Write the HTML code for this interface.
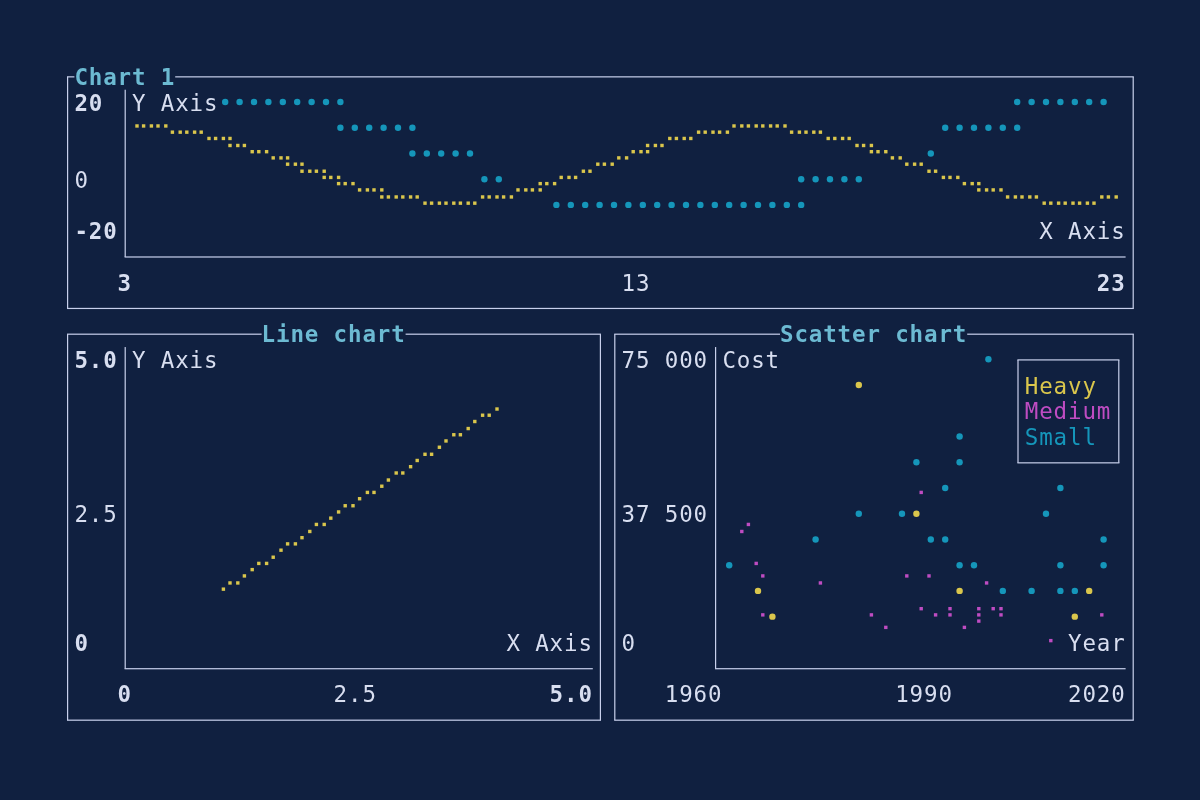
<!DOCTYPE html>
<html><head><meta charset="utf-8"><style>
html,body{margin:0;padding:0;background:#102040;}
body{width:1200px;height:800px;position:relative;overflow:hidden;}
svg{position:absolute;left:0;top:0;}
.tl{position:absolute;left:0;top:0;width:1200px;height:800px;will-change:transform;}
.t{position:absolute;font-family:"DejaVu Sans Mono","Liberation Mono",monospace;font-size:22.5px;line-height:25.733px;height:25.733px;letter-spacing:0.853px;white-space:pre;-webkit-font-smoothing:antialiased;}
</style></head><body>
<svg width="1200" height="800" viewBox="0 0 1200 800">
<rect x="67.00" y="76.26" width="7.40" height="1.2" fill="#c8d0ec"/>
<rect x="175.20" y="76.26" width="958.60" height="1.2" fill="#c8d0ec"/>
<rect x="67.00" y="307.85" width="1066.80" height="1.2" fill="#c8d0ec"/>
<rect x="67.00" y="76.86" width="1.2" height="231.60" fill="#c8d0ec"/>
<rect x="1132.60" y="76.86" width="1.2" height="231.60" fill="#c8d0ec"/>
<rect x="67.00" y="333.59" width="194.60" height="1.2" fill="#c8d0ec"/>
<rect x="405.60" y="333.59" width="195.40" height="1.2" fill="#c8d0ec"/>
<rect x="67.00" y="719.58" width="534.00" height="1.2" fill="#c8d0ec"/>
<rect x="67.00" y="334.19" width="1.2" height="386.00" fill="#c8d0ec"/>
<rect x="599.80" y="334.19" width="1.2" height="386.00" fill="#c8d0ec"/>
<rect x="614.20" y="333.59" width="165.80" height="1.2" fill="#c8d0ec"/>
<rect x="967.20" y="333.59" width="166.60" height="1.2" fill="#c8d0ec"/>
<rect x="614.20" y="719.58" width="519.60" height="1.2" fill="#c8d0ec"/>
<rect x="614.20" y="334.19" width="1.2" height="386.00" fill="#c8d0ec"/>
<rect x="1132.60" y="334.19" width="1.2" height="386.00" fill="#c8d0ec"/>
<rect x="1017.40" y="359.32" width="102.00" height="1.2" fill="#c8d0ec"/>
<rect x="1017.40" y="462.25" width="102.00" height="1.2" fill="#c8d0ec"/>
<rect x="1017.40" y="359.92" width="1.2" height="102.93" fill="#c8d0ec"/>
<rect x="1118.20" y="359.92" width="1.2" height="102.93" fill="#c8d0ec"/>
<rect x="124.60" y="89.72" width="1.2" height="167.26" fill="#c8d0ec"/>
<rect x="124.60" y="256.39" width="1001.00" height="1.2" fill="#c8d0ec"/>
<rect x="124.60" y="347.05" width="1.2" height="321.66" fill="#c8d0ec"/>
<rect x="124.60" y="668.12" width="468.20" height="1.2" fill="#c8d0ec"/>
<rect x="715.00" y="347.05" width="1.2" height="321.66" fill="#c8d0ec"/>
<rect x="715.00" y="668.12" width="410.60" height="1.2" fill="#c8d0ec"/>
<rect x="135.30" y="124.26" width="3.4" height="3.4" fill="#dac64c"/>
<rect x="141.90" y="124.26" width="3.4" height="3.4" fill="#dac64c"/>
<rect x="149.70" y="124.26" width="3.4" height="3.4" fill="#dac64c"/>
<rect x="156.30" y="124.26" width="3.4" height="3.4" fill="#dac64c"/>
<rect x="164.10" y="124.26" width="3.4" height="3.4" fill="#dac64c"/>
<rect x="170.70" y="130.46" width="3.4" height="3.4" fill="#dac64c"/>
<rect x="178.50" y="130.46" width="3.4" height="3.4" fill="#dac64c"/>
<rect x="185.10" y="130.46" width="3.4" height="3.4" fill="#dac64c"/>
<rect x="192.90" y="130.46" width="3.4" height="3.4" fill="#dac64c"/>
<rect x="199.50" y="130.46" width="3.4" height="3.4" fill="#dac64c"/>
<rect x="207.30" y="136.76" width="3.4" height="3.4" fill="#dac64c"/>
<rect x="213.90" y="136.76" width="3.4" height="3.4" fill="#dac64c"/>
<circle cx="225.20" cy="101.99" r="3.2" fill="#1596ba"/>
<rect x="221.70" y="136.76" width="3.4" height="3.4" fill="#dac64c"/>
<rect x="228.30" y="136.76" width="3.4" height="3.4" fill="#dac64c"/>
<rect x="228.30" y="143.79" width="3.4" height="3.4" fill="#dac64c"/>
<rect x="228.30" y="581.25" width="3.4" height="3.4" fill="#dac64c"/>
<rect x="221.70" y="587.45" width="3.4" height="3.4" fill="#dac64c"/>
<circle cx="239.60" cy="101.99" r="3.2" fill="#1596ba"/>
<rect x="236.10" y="143.79" width="3.4" height="3.4" fill="#dac64c"/>
<rect x="242.70" y="143.79" width="3.4" height="3.4" fill="#dac64c"/>
<rect x="242.70" y="574.22" width="3.4" height="3.4" fill="#dac64c"/>
<rect x="236.10" y="581.25" width="3.4" height="3.4" fill="#dac64c"/>
<circle cx="254.00" cy="101.99" r="3.2" fill="#1596ba"/>
<rect x="250.50" y="149.99" width="3.4" height="3.4" fill="#dac64c"/>
<rect x="257.10" y="149.99" width="3.4" height="3.4" fill="#dac64c"/>
<rect x="257.10" y="561.72" width="3.4" height="3.4" fill="#dac64c"/>
<rect x="250.50" y="567.92" width="3.4" height="3.4" fill="#dac64c"/>
<circle cx="268.40" cy="101.99" r="3.2" fill="#1596ba"/>
<rect x="264.90" y="149.99" width="3.4" height="3.4" fill="#dac64c"/>
<rect x="271.50" y="156.19" width="3.4" height="3.4" fill="#dac64c"/>
<rect x="271.50" y="555.52" width="3.4" height="3.4" fill="#dac64c"/>
<rect x="264.90" y="561.72" width="3.4" height="3.4" fill="#dac64c"/>
<circle cx="282.80" cy="101.99" r="3.2" fill="#1596ba"/>
<rect x="279.30" y="156.19" width="3.4" height="3.4" fill="#dac64c"/>
<rect x="285.90" y="156.19" width="3.4" height="3.4" fill="#dac64c"/>
<rect x="285.90" y="162.49" width="3.4" height="3.4" fill="#dac64c"/>
<rect x="285.90" y="542.18" width="3.4" height="3.4" fill="#dac64c"/>
<rect x="279.30" y="548.48" width="3.4" height="3.4" fill="#dac64c"/>
<circle cx="297.20" cy="101.99" r="3.2" fill="#1596ba"/>
<rect x="293.70" y="162.49" width="3.4" height="3.4" fill="#dac64c"/>
<rect x="300.30" y="162.49" width="3.4" height="3.4" fill="#dac64c"/>
<rect x="300.30" y="169.52" width="3.4" height="3.4" fill="#dac64c"/>
<rect x="300.30" y="535.98" width="3.4" height="3.4" fill="#dac64c"/>
<rect x="293.70" y="542.18" width="3.4" height="3.4" fill="#dac64c"/>
<circle cx="311.60" cy="101.99" r="3.2" fill="#1596ba"/>
<rect x="308.10" y="169.52" width="3.4" height="3.4" fill="#dac64c"/>
<rect x="314.70" y="169.52" width="3.4" height="3.4" fill="#dac64c"/>
<rect x="314.70" y="522.75" width="3.4" height="3.4" fill="#dac64c"/>
<rect x="308.10" y="529.78" width="3.4" height="3.4" fill="#dac64c"/>
<circle cx="326.00" cy="101.99" r="3.2" fill="#1596ba"/>
<rect x="322.50" y="169.52" width="3.4" height="3.4" fill="#dac64c"/>
<rect x="322.50" y="175.72" width="3.4" height="3.4" fill="#dac64c"/>
<rect x="329.10" y="175.72" width="3.4" height="3.4" fill="#dac64c"/>
<rect x="329.10" y="516.45" width="3.4" height="3.4" fill="#dac64c"/>
<rect x="322.50" y="522.75" width="3.4" height="3.4" fill="#dac64c"/>
<circle cx="340.40" cy="101.99" r="3.2" fill="#1596ba"/>
<circle cx="340.40" cy="127.72" r="3.2" fill="#1596ba"/>
<rect x="336.90" y="175.72" width="3.4" height="3.4" fill="#dac64c"/>
<rect x="336.90" y="181.92" width="3.4" height="3.4" fill="#dac64c"/>
<rect x="343.50" y="181.92" width="3.4" height="3.4" fill="#dac64c"/>
<rect x="343.50" y="504.05" width="3.4" height="3.4" fill="#dac64c"/>
<rect x="336.90" y="510.25" width="3.4" height="3.4" fill="#dac64c"/>
<circle cx="354.80" cy="127.72" r="3.2" fill="#1596ba"/>
<rect x="351.30" y="181.92" width="3.4" height="3.4" fill="#dac64c"/>
<rect x="357.90" y="188.22" width="3.4" height="3.4" fill="#dac64c"/>
<rect x="357.90" y="497.02" width="3.4" height="3.4" fill="#dac64c"/>
<rect x="351.30" y="504.05" width="3.4" height="3.4" fill="#dac64c"/>
<circle cx="369.20" cy="127.72" r="3.2" fill="#1596ba"/>
<rect x="365.70" y="188.22" width="3.4" height="3.4" fill="#dac64c"/>
<rect x="372.30" y="188.22" width="3.4" height="3.4" fill="#dac64c"/>
<rect x="365.70" y="490.72" width="3.4" height="3.4" fill="#dac64c"/>
<rect x="372.30" y="490.72" width="3.4" height="3.4" fill="#dac64c"/>
<circle cx="383.60" cy="127.72" r="3.2" fill="#1596ba"/>
<rect x="380.10" y="188.22" width="3.4" height="3.4" fill="#dac64c"/>
<rect x="380.10" y="195.26" width="3.4" height="3.4" fill="#dac64c"/>
<rect x="386.70" y="195.26" width="3.4" height="3.4" fill="#dac64c"/>
<rect x="386.70" y="478.32" width="3.4" height="3.4" fill="#dac64c"/>
<rect x="380.10" y="484.52" width="3.4" height="3.4" fill="#dac64c"/>
<circle cx="398.00" cy="127.72" r="3.2" fill="#1596ba"/>
<rect x="394.50" y="195.26" width="3.4" height="3.4" fill="#dac64c"/>
<rect x="401.10" y="195.26" width="3.4" height="3.4" fill="#dac64c"/>
<rect x="394.50" y="471.29" width="3.4" height="3.4" fill="#dac64c"/>
<rect x="401.10" y="471.29" width="3.4" height="3.4" fill="#dac64c"/>
<circle cx="412.40" cy="127.72" r="3.2" fill="#1596ba"/>
<circle cx="412.40" cy="153.46" r="3.2" fill="#1596ba"/>
<rect x="408.90" y="195.26" width="3.4" height="3.4" fill="#dac64c"/>
<rect x="415.50" y="195.26" width="3.4" height="3.4" fill="#dac64c"/>
<rect x="415.50" y="458.79" width="3.4" height="3.4" fill="#dac64c"/>
<rect x="408.90" y="464.99" width="3.4" height="3.4" fill="#dac64c"/>
<circle cx="426.80" cy="153.46" r="3.2" fill="#1596ba"/>
<rect x="423.30" y="201.46" width="3.4" height="3.4" fill="#dac64c"/>
<rect x="429.90" y="201.46" width="3.4" height="3.4" fill="#dac64c"/>
<rect x="423.30" y="452.59" width="3.4" height="3.4" fill="#dac64c"/>
<rect x="429.90" y="452.59" width="3.4" height="3.4" fill="#dac64c"/>
<circle cx="441.20" cy="153.46" r="3.2" fill="#1596ba"/>
<rect x="437.70" y="201.46" width="3.4" height="3.4" fill="#dac64c"/>
<rect x="444.30" y="201.46" width="3.4" height="3.4" fill="#dac64c"/>
<rect x="444.30" y="439.25" width="3.4" height="3.4" fill="#dac64c"/>
<rect x="437.70" y="445.55" width="3.4" height="3.4" fill="#dac64c"/>
<circle cx="455.60" cy="153.46" r="3.2" fill="#1596ba"/>
<rect x="452.10" y="201.46" width="3.4" height="3.4" fill="#dac64c"/>
<rect x="458.70" y="201.46" width="3.4" height="3.4" fill="#dac64c"/>
<rect x="452.10" y="433.05" width="3.4" height="3.4" fill="#dac64c"/>
<rect x="458.70" y="433.05" width="3.4" height="3.4" fill="#dac64c"/>
<circle cx="470.00" cy="153.46" r="3.2" fill="#1596ba"/>
<rect x="466.50" y="201.46" width="3.4" height="3.4" fill="#dac64c"/>
<rect x="473.10" y="201.46" width="3.4" height="3.4" fill="#dac64c"/>
<rect x="473.10" y="419.82" width="3.4" height="3.4" fill="#dac64c"/>
<rect x="466.50" y="426.85" width="3.4" height="3.4" fill="#dac64c"/>
<circle cx="484.40" cy="179.19" r="3.2" fill="#1596ba"/>
<rect x="480.90" y="195.26" width="3.4" height="3.4" fill="#dac64c"/>
<rect x="487.50" y="195.26" width="3.4" height="3.4" fill="#dac64c"/>
<rect x="480.90" y="413.52" width="3.4" height="3.4" fill="#dac64c"/>
<rect x="487.50" y="413.52" width="3.4" height="3.4" fill="#dac64c"/>
<circle cx="498.80" cy="179.19" r="3.2" fill="#1596ba"/>
<rect x="495.30" y="195.26" width="3.4" height="3.4" fill="#dac64c"/>
<rect x="501.90" y="195.26" width="3.4" height="3.4" fill="#dac64c"/>
<rect x="495.30" y="407.32" width="3.4" height="3.4" fill="#dac64c"/>
<rect x="516.30" y="188.22" width="3.4" height="3.4" fill="#dac64c"/>
<rect x="509.70" y="195.26" width="3.4" height="3.4" fill="#dac64c"/>
<rect x="524.10" y="188.22" width="3.4" height="3.4" fill="#dac64c"/>
<rect x="530.70" y="188.22" width="3.4" height="3.4" fill="#dac64c"/>
<rect x="538.50" y="181.92" width="3.4" height="3.4" fill="#dac64c"/>
<rect x="545.10" y="181.92" width="3.4" height="3.4" fill="#dac64c"/>
<rect x="538.50" y="188.22" width="3.4" height="3.4" fill="#dac64c"/>
<rect x="559.50" y="175.72" width="3.4" height="3.4" fill="#dac64c"/>
<rect x="552.90" y="181.92" width="3.4" height="3.4" fill="#dac64c"/>
<circle cx="556.40" cy="204.92" r="3.2" fill="#1596ba"/>
<rect x="567.30" y="175.72" width="3.4" height="3.4" fill="#dac64c"/>
<rect x="573.90" y="175.72" width="3.4" height="3.4" fill="#dac64c"/>
<circle cx="570.80" cy="204.92" r="3.2" fill="#1596ba"/>
<rect x="581.70" y="169.52" width="3.4" height="3.4" fill="#dac64c"/>
<rect x="588.30" y="169.52" width="3.4" height="3.4" fill="#dac64c"/>
<circle cx="585.20" cy="204.92" r="3.2" fill="#1596ba"/>
<rect x="596.10" y="162.49" width="3.4" height="3.4" fill="#dac64c"/>
<rect x="602.70" y="162.49" width="3.4" height="3.4" fill="#dac64c"/>
<circle cx="599.60" cy="204.92" r="3.2" fill="#1596ba"/>
<rect x="617.10" y="156.19" width="3.4" height="3.4" fill="#dac64c"/>
<rect x="610.50" y="162.49" width="3.4" height="3.4" fill="#dac64c"/>
<circle cx="614.00" cy="204.92" r="3.2" fill="#1596ba"/>
<rect x="631.50" y="149.99" width="3.4" height="3.4" fill="#dac64c"/>
<rect x="624.90" y="156.19" width="3.4" height="3.4" fill="#dac64c"/>
<circle cx="628.40" cy="204.92" r="3.2" fill="#1596ba"/>
<rect x="645.90" y="143.79" width="3.4" height="3.4" fill="#dac64c"/>
<rect x="639.30" y="149.99" width="3.4" height="3.4" fill="#dac64c"/>
<rect x="645.90" y="149.99" width="3.4" height="3.4" fill="#dac64c"/>
<circle cx="642.80" cy="204.92" r="3.2" fill="#1596ba"/>
<rect x="653.70" y="143.79" width="3.4" height="3.4" fill="#dac64c"/>
<rect x="660.30" y="143.79" width="3.4" height="3.4" fill="#dac64c"/>
<circle cx="657.20" cy="204.92" r="3.2" fill="#1596ba"/>
<rect x="668.10" y="136.76" width="3.4" height="3.4" fill="#dac64c"/>
<rect x="674.70" y="136.76" width="3.4" height="3.4" fill="#dac64c"/>
<circle cx="671.60" cy="204.92" r="3.2" fill="#1596ba"/>
<rect x="682.50" y="136.76" width="3.4" height="3.4" fill="#dac64c"/>
<rect x="689.10" y="136.76" width="3.4" height="3.4" fill="#dac64c"/>
<circle cx="686.00" cy="204.92" r="3.2" fill="#1596ba"/>
<rect x="696.90" y="130.46" width="3.4" height="3.4" fill="#dac64c"/>
<rect x="703.50" y="130.46" width="3.4" height="3.4" fill="#dac64c"/>
<circle cx="700.40" cy="204.92" r="3.2" fill="#1596ba"/>
<rect x="711.30" y="130.46" width="3.4" height="3.4" fill="#dac64c"/>
<rect x="717.90" y="130.46" width="3.4" height="3.4" fill="#dac64c"/>
<circle cx="714.80" cy="204.92" r="3.2" fill="#1596ba"/>
<rect x="732.30" y="124.26" width="3.4" height="3.4" fill="#dac64c"/>
<rect x="725.70" y="130.46" width="3.4" height="3.4" fill="#dac64c"/>
<circle cx="729.20" cy="204.92" r="3.2" fill="#1596ba"/>
<circle cx="729.20" cy="565.18" r="3.2" fill="#1596ba"/>
<rect x="740.10" y="124.26" width="3.4" height="3.4" fill="#dac64c"/>
<rect x="746.70" y="124.26" width="3.4" height="3.4" fill="#dac64c"/>
<circle cx="743.60" cy="204.92" r="3.2" fill="#1596ba"/>
<rect x="746.70" y="522.75" width="3.4" height="3.4" fill="#bf4cc2"/>
<rect x="740.10" y="529.78" width="3.4" height="3.4" fill="#bf4cc2"/>
<rect x="754.50" y="124.26" width="3.4" height="3.4" fill="#dac64c"/>
<rect x="761.10" y="124.26" width="3.4" height="3.4" fill="#dac64c"/>
<circle cx="758.00" cy="204.92" r="3.2" fill="#1596ba"/>
<rect x="754.50" y="561.72" width="3.4" height="3.4" fill="#bf4cc2"/>
<rect x="761.10" y="574.22" width="3.4" height="3.4" fill="#bf4cc2"/>
<circle cx="758.00" cy="590.92" r="3.2" fill="#dac64c"/>
<rect x="761.10" y="613.18" width="3.4" height="3.4" fill="#bf4cc2"/>
<rect x="768.90" y="124.26" width="3.4" height="3.4" fill="#dac64c"/>
<rect x="775.50" y="124.26" width="3.4" height="3.4" fill="#dac64c"/>
<circle cx="772.40" cy="204.92" r="3.2" fill="#1596ba"/>
<circle cx="772.40" cy="616.65" r="3.2" fill="#dac64c"/>
<rect x="783.30" y="124.26" width="3.4" height="3.4" fill="#dac64c"/>
<rect x="789.90" y="130.46" width="3.4" height="3.4" fill="#dac64c"/>
<circle cx="786.80" cy="204.92" r="3.2" fill="#1596ba"/>
<rect x="797.70" y="130.46" width="3.4" height="3.4" fill="#dac64c"/>
<rect x="804.30" y="130.46" width="3.4" height="3.4" fill="#dac64c"/>
<circle cx="801.20" cy="179.19" r="3.2" fill="#1596ba"/>
<circle cx="801.20" cy="204.92" r="3.2" fill="#1596ba"/>
<rect x="812.10" y="130.46" width="3.4" height="3.4" fill="#dac64c"/>
<rect x="818.70" y="130.46" width="3.4" height="3.4" fill="#dac64c"/>
<circle cx="815.60" cy="179.19" r="3.2" fill="#1596ba"/>
<circle cx="815.60" cy="539.45" r="3.2" fill="#1596ba"/>
<rect x="818.70" y="581.25" width="3.4" height="3.4" fill="#bf4cc2"/>
<rect x="826.50" y="136.76" width="3.4" height="3.4" fill="#dac64c"/>
<rect x="833.10" y="136.76" width="3.4" height="3.4" fill="#dac64c"/>
<circle cx="830.00" cy="179.19" r="3.2" fill="#1596ba"/>
<rect x="840.90" y="136.76" width="3.4" height="3.4" fill="#dac64c"/>
<rect x="847.50" y="136.76" width="3.4" height="3.4" fill="#dac64c"/>
<circle cx="844.40" cy="179.19" r="3.2" fill="#1596ba"/>
<rect x="855.30" y="143.79" width="3.4" height="3.4" fill="#dac64c"/>
<rect x="861.90" y="143.79" width="3.4" height="3.4" fill="#dac64c"/>
<circle cx="858.80" cy="179.19" r="3.2" fill="#1596ba"/>
<circle cx="858.80" cy="385.05" r="3.2" fill="#dac64c"/>
<circle cx="858.80" cy="513.72" r="3.2" fill="#1596ba"/>
<rect x="869.70" y="143.79" width="3.4" height="3.4" fill="#dac64c"/>
<rect x="869.70" y="149.99" width="3.4" height="3.4" fill="#dac64c"/>
<rect x="876.30" y="149.99" width="3.4" height="3.4" fill="#dac64c"/>
<rect x="869.70" y="613.18" width="3.4" height="3.4" fill="#bf4cc2"/>
<rect x="884.10" y="149.99" width="3.4" height="3.4" fill="#dac64c"/>
<rect x="890.70" y="156.19" width="3.4" height="3.4" fill="#dac64c"/>
<rect x="884.10" y="625.68" width="3.4" height="3.4" fill="#bf4cc2"/>
<rect x="898.50" y="156.19" width="3.4" height="3.4" fill="#dac64c"/>
<rect x="905.10" y="162.49" width="3.4" height="3.4" fill="#dac64c"/>
<circle cx="902.00" cy="513.72" r="3.2" fill="#1596ba"/>
<rect x="905.10" y="574.22" width="3.4" height="3.4" fill="#bf4cc2"/>
<rect x="912.90" y="162.49" width="3.4" height="3.4" fill="#dac64c"/>
<rect x="919.50" y="162.49" width="3.4" height="3.4" fill="#dac64c"/>
<circle cx="916.40" cy="462.25" r="3.2" fill="#1596ba"/>
<rect x="919.50" y="490.72" width="3.4" height="3.4" fill="#bf4cc2"/>
<circle cx="916.40" cy="513.72" r="3.2" fill="#dac64c"/>
<rect x="919.50" y="606.98" width="3.4" height="3.4" fill="#bf4cc2"/>
<circle cx="930.80" cy="153.46" r="3.2" fill="#1596ba"/>
<rect x="927.30" y="169.52" width="3.4" height="3.4" fill="#dac64c"/>
<rect x="933.90" y="169.52" width="3.4" height="3.4" fill="#dac64c"/>
<circle cx="930.80" cy="539.45" r="3.2" fill="#1596ba"/>
<rect x="927.30" y="574.22" width="3.4" height="3.4" fill="#bf4cc2"/>
<rect x="933.90" y="613.18" width="3.4" height="3.4" fill="#bf4cc2"/>
<circle cx="945.20" cy="127.72" r="3.2" fill="#1596ba"/>
<rect x="941.70" y="175.72" width="3.4" height="3.4" fill="#dac64c"/>
<rect x="948.30" y="175.72" width="3.4" height="3.4" fill="#dac64c"/>
<circle cx="945.20" cy="487.98" r="3.2" fill="#1596ba"/>
<circle cx="945.20" cy="539.45" r="3.2" fill="#1596ba"/>
<rect x="948.30" y="606.98" width="3.4" height="3.4" fill="#bf4cc2"/>
<rect x="948.30" y="613.18" width="3.4" height="3.4" fill="#bf4cc2"/>
<circle cx="959.60" cy="127.72" r="3.2" fill="#1596ba"/>
<rect x="956.10" y="175.72" width="3.4" height="3.4" fill="#dac64c"/>
<rect x="962.70" y="181.92" width="3.4" height="3.4" fill="#dac64c"/>
<circle cx="959.60" cy="436.52" r="3.2" fill="#1596ba"/>
<circle cx="959.60" cy="462.25" r="3.2" fill="#1596ba"/>
<circle cx="959.60" cy="565.18" r="3.2" fill="#1596ba"/>
<circle cx="959.60" cy="590.92" r="3.2" fill="#dac64c"/>
<rect x="962.70" y="625.68" width="3.4" height="3.4" fill="#bf4cc2"/>
<circle cx="974.00" cy="127.72" r="3.2" fill="#1596ba"/>
<rect x="970.50" y="181.92" width="3.4" height="3.4" fill="#dac64c"/>
<rect x="977.10" y="181.92" width="3.4" height="3.4" fill="#dac64c"/>
<rect x="977.10" y="188.22" width="3.4" height="3.4" fill="#dac64c"/>
<circle cx="974.00" cy="565.18" r="3.2" fill="#1596ba"/>
<rect x="977.10" y="606.98" width="3.4" height="3.4" fill="#bf4cc2"/>
<rect x="977.10" y="613.18" width="3.4" height="3.4" fill="#bf4cc2"/>
<rect x="977.10" y="619.38" width="3.4" height="3.4" fill="#bf4cc2"/>
<circle cx="988.40" cy="127.72" r="3.2" fill="#1596ba"/>
<rect x="984.90" y="188.22" width="3.4" height="3.4" fill="#dac64c"/>
<rect x="991.50" y="188.22" width="3.4" height="3.4" fill="#dac64c"/>
<circle cx="988.40" cy="359.32" r="3.2" fill="#1596ba"/>
<rect x="984.90" y="581.25" width="3.4" height="3.4" fill="#bf4cc2"/>
<rect x="991.50" y="606.98" width="3.4" height="3.4" fill="#bf4cc2"/>
<circle cx="1002.80" cy="127.72" r="3.2" fill="#1596ba"/>
<rect x="999.30" y="188.22" width="3.4" height="3.4" fill="#dac64c"/>
<rect x="1005.90" y="195.26" width="3.4" height="3.4" fill="#dac64c"/>
<circle cx="1002.80" cy="590.92" r="3.2" fill="#1596ba"/>
<rect x="999.30" y="606.98" width="3.4" height="3.4" fill="#bf4cc2"/>
<rect x="999.30" y="613.18" width="3.4" height="3.4" fill="#bf4cc2"/>
<circle cx="1017.20" cy="101.99" r="3.2" fill="#1596ba"/>
<circle cx="1017.20" cy="127.72" r="3.2" fill="#1596ba"/>
<rect x="1013.70" y="195.26" width="3.4" height="3.4" fill="#dac64c"/>
<rect x="1020.30" y="195.26" width="3.4" height="3.4" fill="#dac64c"/>
<circle cx="1031.60" cy="101.99" r="3.2" fill="#1596ba"/>
<rect x="1028.10" y="195.26" width="3.4" height="3.4" fill="#dac64c"/>
<rect x="1034.70" y="195.26" width="3.4" height="3.4" fill="#dac64c"/>
<circle cx="1031.60" cy="590.92" r="3.2" fill="#1596ba"/>
<circle cx="1046.00" cy="101.99" r="3.2" fill="#1596ba"/>
<rect x="1042.50" y="201.46" width="3.4" height="3.4" fill="#dac64c"/>
<rect x="1049.10" y="201.46" width="3.4" height="3.4" fill="#dac64c"/>
<circle cx="1046.00" cy="513.72" r="3.2" fill="#1596ba"/>
<rect x="1049.10" y="638.92" width="3.4" height="3.4" fill="#bf4cc2"/>
<circle cx="1060.40" cy="101.99" r="3.2" fill="#1596ba"/>
<rect x="1056.90" y="201.46" width="3.4" height="3.4" fill="#dac64c"/>
<rect x="1063.50" y="201.46" width="3.4" height="3.4" fill="#dac64c"/>
<circle cx="1060.40" cy="487.98" r="3.2" fill="#1596ba"/>
<circle cx="1060.40" cy="565.18" r="3.2" fill="#1596ba"/>
<circle cx="1060.40" cy="590.92" r="3.2" fill="#1596ba"/>
<circle cx="1074.80" cy="101.99" r="3.2" fill="#1596ba"/>
<rect x="1071.30" y="201.46" width="3.4" height="3.4" fill="#dac64c"/>
<rect x="1077.90" y="201.46" width="3.4" height="3.4" fill="#dac64c"/>
<circle cx="1074.80" cy="590.92" r="3.2" fill="#1596ba"/>
<circle cx="1074.80" cy="616.65" r="3.2" fill="#dac64c"/>
<circle cx="1089.20" cy="101.99" r="3.2" fill="#1596ba"/>
<rect x="1085.70" y="201.46" width="3.4" height="3.4" fill="#dac64c"/>
<rect x="1092.30" y="201.46" width="3.4" height="3.4" fill="#dac64c"/>
<circle cx="1089.20" cy="590.92" r="3.2" fill="#dac64c"/>
<circle cx="1103.60" cy="101.99" r="3.2" fill="#1596ba"/>
<rect x="1100.10" y="195.26" width="3.4" height="3.4" fill="#dac64c"/>
<rect x="1106.70" y="195.26" width="3.4" height="3.4" fill="#dac64c"/>
<circle cx="1103.60" cy="539.45" r="3.2" fill="#1596ba"/>
<circle cx="1103.60" cy="565.18" r="3.2" fill="#1596ba"/>
<rect x="1100.10" y="613.18" width="3.4" height="3.4" fill="#bf4cc2"/>
<rect x="1114.50" y="195.26" width="3.4" height="3.4" fill="#dac64c"/>
</svg>
<div class="tl">
<span class="t" style="left:74.40px;top:64.89px;color:#6cbad2;font-weight:bold;">Chart 1</span>
<span class="t" style="left:74.40px;top:90.62px;color:#d8def0;font-weight:bold;">20</span>
<span class="t" style="left:74.40px;top:167.82px;color:#d8def0;">0</span>
<span class="t" style="left:74.40px;top:219.29px;color:#d8def0;font-weight:bold;">-20</span>
<span class="t" style="left:132.00px;top:90.62px;color:#d8def0;">Y Axis</span>
<span class="t" style="left:1039.20px;top:219.29px;color:#d8def0;">X Axis</span>
<span class="t" style="left:117.60px;top:270.75px;color:#d8def0;font-weight:bold;">3</span>
<span class="t" style="left:621.60px;top:270.75px;color:#d8def0;">13</span>
<span class="t" style="left:1096.80px;top:270.75px;color:#d8def0;font-weight:bold;">23</span>
<span class="t" style="left:261.60px;top:322.22px;color:#6cbad2;font-weight:bold;">Line chart</span>
<span class="t" style="left:74.40px;top:347.95px;color:#d8def0;font-weight:bold;">5.0</span>
<span class="t" style="left:74.40px;top:502.35px;color:#d8def0;">2.5</span>
<span class="t" style="left:74.40px;top:631.02px;color:#d8def0;font-weight:bold;">0</span>
<span class="t" style="left:132.00px;top:347.95px;color:#d8def0;">Y Axis</span>
<span class="t" style="left:506.40px;top:631.02px;color:#d8def0;">X Axis</span>
<span class="t" style="left:117.60px;top:682.48px;color:#d8def0;font-weight:bold;">0</span>
<span class="t" style="left:333.60px;top:682.48px;color:#d8def0;">2.5</span>
<span class="t" style="left:549.60px;top:682.48px;color:#d8def0;font-weight:bold;">5.0</span>
<span class="t" style="left:780.00px;top:322.22px;color:#6cbad2;font-weight:bold;">Scatter chart</span>
<span class="t" style="left:621.60px;top:347.95px;color:#d8def0;">75 000</span>
<span class="t" style="left:621.60px;top:502.35px;color:#d8def0;">37 500</span>
<span class="t" style="left:621.60px;top:631.02px;color:#d8def0;">0</span>
<span class="t" style="left:722.40px;top:347.95px;color:#d8def0;">Cost</span>
<span class="t" style="left:1068.00px;top:631.02px;color:#d8def0;">Year</span>
<span class="t" style="left:664.80px;top:682.48px;color:#d8def0;">1960</span>
<span class="t" style="left:895.20px;top:682.48px;color:#d8def0;">1990</span>
<span class="t" style="left:1068.00px;top:682.48px;color:#d8def0;">2020</span>
<span class="t" style="left:1024.80px;top:373.69px;color:#dac64c;">Heavy</span>
<span class="t" style="left:1024.80px;top:399.42px;color:#bf4cc2;">Medium</span>
<span class="t" style="left:1024.80px;top:425.15px;color:#1596ba;">Small</span>
</div>
</body></html>
